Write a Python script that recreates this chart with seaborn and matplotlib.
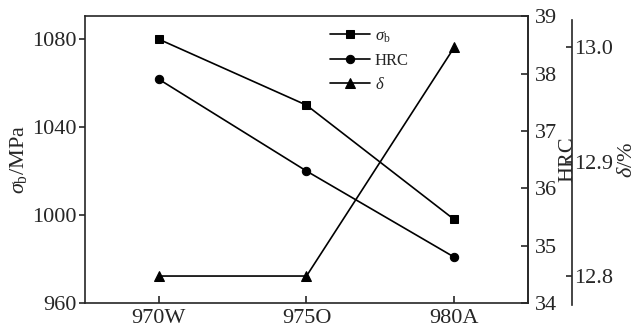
import matplotlib
matplotlib.use("Agg")
import matplotlib.pyplot as plt
import seaborn as sns
import pandas as pd
from matplotlib.ticker import FormatStrFormatter

categories = ["970W", "975O", "980A"]
sigma_b = [1080, 1050, 998]
hrc = [37.9, 36.3, 34.8]
delta = [12.8, 12.8, 13.0]

sns.set_style("ticks")
plt.rcParams["font.family"] = ["Liberation Serif", "DejaVu Serif"]
plt.rcParams["mathtext.fontset"] = "custom"
plt.rcParams["mathtext.rm"] = "Liberation Serif"
plt.rcParams["mathtext.it"] = "Liberation Serif:italic"
plt.rcParams["axes.linewidth"] = 1.2

df = pd.DataFrame({"cat": categories, "sigma": sigma_b, "hrc": hrc, "delta": delta})

fig = plt.figure(figsize=(6.37, 3.36), dpi=100)
ax = fig.add_axes([0.1334, 0.0982, 0.6955, 0.8538])
ax2 = ax.twinx()
ax3 = ax.twinx()

lw = 1.2
ms = 6
sns.lineplot(data=df, x="cat", y="sigma", ax=ax, color="black", marker="s", markersize=ms,
             linewidth=lw, markeredgecolor="black", legend=False, label=r"$\sigma_{\rm b}$", sort=False)
sns.lineplot(data=df, x="cat", y="hrc", ax=ax2, color="black", marker="o", markersize=ms,
             linewidth=lw, markeredgecolor="black", legend=False, label="HRC", sort=False)
sns.lineplot(data=df, x="cat", y="delta", ax=ax3, color="black", marker="^", markersize=ms + 1,
             linewidth=lw, markeredgecolor="black", legend=False, label=r"$\delta$", sort=False)

for a in (ax, ax2, ax3):
    lg = a.get_legend()
    if lg is not None:
        lg.remove()

ax.set_xlim(-0.5, 2.5)
ax.set_ylim(960, 1090.5)
ax.set_yticks([960, 1000, 1040, 1080])
ax.set_xlabel("")
ax.set_ylabel(r"$\sigma_{\rm b}$/MPa", fontsize=16, labelpad=2)
ax.tick_params(axis="y", direction="out", length=4, width=1.2, pad=2, labelsize=16)
ax.tick_params(axis="x", direction="in", length=5, width=1.2, pad=4, labelsize=16)
for s in ax.spines.values():
    s.set_visible(True)
    s.set_linewidth(1.2)

ax2.set_ylim(34, 39)
ax2.set_yticks([34, 35, 36, 37, 38, 39])
ax2.tick_params(axis="y", direction="in", length=5, width=1.2, pad=5, labelsize=16)
ax2.set_ylabel("HRC", fontsize=16)
ax2.yaxis.set_label_coords(1.068, 0.5)
for k in ("left", "top", "bottom"):
    ax2.spines[k].set_visible(False)

ax3.spines["right"].set_position(("axes", 1.1))
for k in ("left", "top", "bottom"):
    ax3.spines[k].set_visible(False)
ax3.spines["right"].set_linewidth(1.2)
ax3.set_ylim(12.7764, 13.0274)
ax3.set_yticks([12.8, 12.9, 13.0])
ax3.yaxis.set_major_formatter(FormatStrFormatter("%.1f"))
ax3.spines["right"].set_bounds(12.7747, 13.0239)
ax3.tick_params(axis="y", direction="in", length=4, width=1.2, pad=1.5, labelsize=16)
ax3.set_ylabel(r"$\delta$/%", fontsize=16)
ax3.yaxis.set_label_coords(1.203, 0.5)

handles = ax.get_lines()[:1] + ax2.get_lines()[:1] + ax3.get_lines()[:1]
labels = [r"$\sigma_{\rm b}$", "HRC", r"$\delta$"]
ax3.legend(handles, labels, loc="upper left", bbox_to_anchor=(0.553, 0.958),
           frameon=False, fontsize=12, handlelength=2.4, handletextpad=0.3,
           labelspacing=0.5, borderpad=0, borderaxespad=0)

fig.savefig("out.png", dpi=100)
